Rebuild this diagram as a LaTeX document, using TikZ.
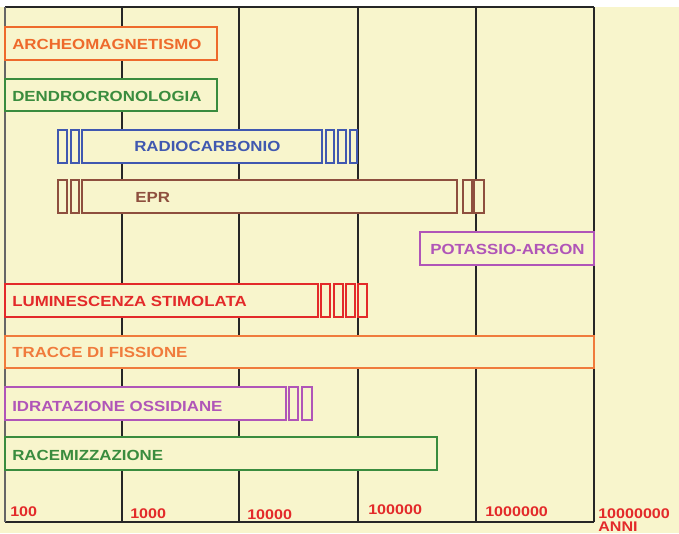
\documentclass[tikz,border=0pt]{standalone}
\usepackage{fontspec}
\setmainfont{Liberation Sans}
\newfontfamily\barfont[FakeStretch=1.15]{Liberation Sans Bold}
\usetikzlibrary{positioning}

\definecolor{cream}{HTML}{F8F5CC}
\definecolor{cOrange}{HTML}{EE6A2C}
\definecolor{cGreen}{HTML}{3A8C3E}
\definecolor{cBlue}{HTML}{4058B0}
\definecolor{cBrown}{HTML}{8E4F3E}
\definecolor{cPurple}{HTML}{B055B8}
\definecolor{cRed}{HTML}{E32A2A}
\definecolor{cFiss}{HTML}{F07B3C}

\begin{document}
\begin{tikzpicture}[
x=0.75pt, y=-0.75pt,
grid/.style={
  draw=black!85,
  line width=1.9pt
},
bar/.style={
  fill=cream,
  line width=1.6pt
},
bartext/.style={
  anchor=west,
  inner sep=0pt,
  font=\barfont\fontsize{11}{11}\selectfont
},
yeartext/.style={
  anchor=south west,
  inner sep=0pt,
  text=cRed,
  font=\barfont\fontsize{10.5}{10}\selectfont
}
]
\useasboundingbox (0,0) rectangle (679,533);
\fill[cream] (0,7) rectangle (679,533);

% grid
\foreach \gx in {122,239,358,476,594}
  \draw[grid] (\gx,7) -- (\gx,522);
\draw[grid] (5,7) -- (594,7);
\draw[grid] (5,522) -- (594,522);
\draw[draw=black!60,line width=1pt] (5,7) -- (5,522);

% ARCHEOMAGNETISMO
\draw[bar,draw=cOrange] (5,27) rectangle (217,60);
\node[bartext,text=cOrange] (archeo) at (12,44) {ARCHEOMAGNETISMO};

% DENDROCRONOLOGIA
\draw[bar,draw=cGreen] (5,79) rectangle (217,111);
\node[bartext,text=cGreen] (dendro) at (12,96) {DENDROCRONOLOGIA};

% RADIOCARBONIO
\foreach \a/\b in {58/67,71/79,326/334,338/346,350/357}
  \draw[bar,draw=cBlue] (\a,130) rectangle (\b,163);
\draw[bar,draw=cBlue] (82,130) rectangle (322,163);
\node[bartext,text=cBlue] (radio) at (134,146) {RADIOCARBONIO};

% EPR
\foreach \a/\b in {58/67,71/79,463/472,474/484}
  \draw[bar,draw=cBrown] (\a,180) rectangle (\b,213);
\draw[bar,draw=cBrown] (82,180) rectangle (457,213);
\node[bartext,text=cBrown] (epr) at (135,197) {EPR};

% POTASSIO-ARGON
\draw[bar,draw=cPurple] (420,232) rectangle (594,265);
\node[bartext,text=cPurple] (potassio) at (430,249) {POTASSIO-ARGON};

% LUMINESCENZA STIMOLATA
\foreach \a/\b in {321/330,334/343,346/355,358/367}
  \draw[bar,draw=cRed] (\a,284) rectangle (\b,317);
\draw[bar,draw=cRed] (5,284) rectangle (318,317);
\node[bartext,text=cRed] (lumi) at (12,301) {LUMINESCENZA STIMOLATA};

% TRACCE DI FISSIONE
\draw[bar,draw=cFiss] (5,336) rectangle (594,368);
\node[bartext,text=cFiss] (tracce) at (12,352) {TRACCE DI FISSIONE};

% IDRATAZIONE OSSIDIANE
\foreach \a/\b in {289/298,302/312}
  \draw[bar,draw=cPurple] (\a,387) rectangle (\b,420);
\draw[bar,draw=cPurple] (5,387) rectangle (286,420);
\node[bartext,text=cPurple] (idra) at (12,406) {IDRATAZIONE OSSIDIANE};

% RACEMIZZAZIONE
\draw[bar,draw=cGreen] (5,437) rectangle (437,470);
\node[bartext,text=cGreen] (race) at (12,455) {RACEMIZZAZIONE};

% years
\node[yeartext] (y2) at (10,517) {100};
\node[yeartext] (y3) at (130,519) {1000};
\node[yeartext] (y4) at (247,520) {10000};
\node[yeartext] (y5) at (368,515) {100000};
\node[yeartext] (y6) at (485,517) {1000000};
\node[yeartext,align=left] (y7) at (598,532) {10000000\\ANNI};
\end{tikzpicture}
\end{document}
